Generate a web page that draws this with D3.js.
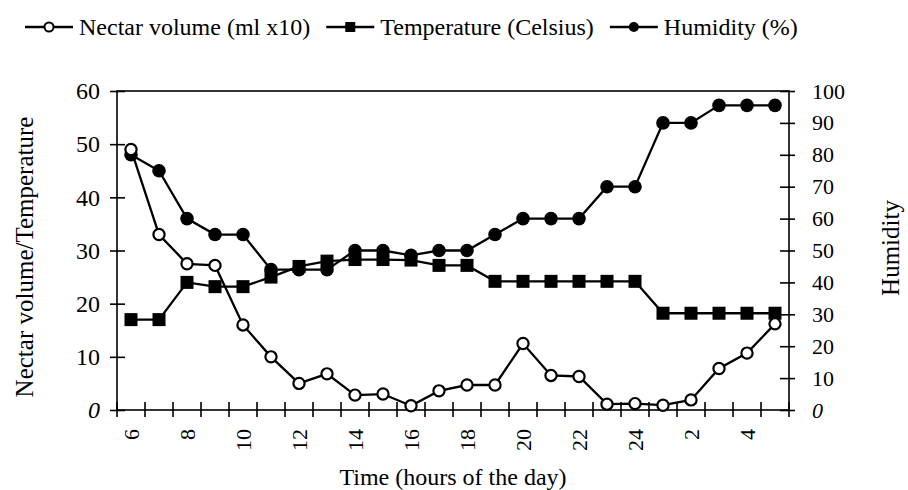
<!DOCTYPE html>
<html lang='en'>
<head>
  <meta charset='UTF-8'>
  <title>Nectar volume, temperature and humidity</title>
  <style>
  body { margin: 0; background: #fff; }
  svg { display: block; }
  svg text { font-family: "Liberation Serif", "DejaVu Serif", serif; fill: #000; }
  .axis path { display: none; }
  .axis line { stroke: #000; stroke-width: 1.6; }
  </style>
  <script src="https://d3js.org/d3.v7.min.js"></script>
</head>
<body>
  <script>

  // data
  var hours = ['6', '7', '8', '9', '10', '11', '12', '13', '14', '15', '16', '17',
               '18', '19', '20', '21', '22', '23', '24', '1', '2', '3', '4', '5'];
  var hourLabels = ['6', '8', '10', '12', '14', '16', '18', '20', '22', '24', '2', '4'];
  var nectar = [49, 33, 27.5, 27.2, 16, 10, 5, 6.8, 2.8, 3, 0.8, 3.6,
                4.7, 4.7, 12.5, 6.5, 6.3, 1.1, 1.2, 0.9, 1.9, 7.8, 10.7, 16.2];
  var temperature = [17, 17, 24, 23.2, 23.2, 25, 27, 28, 28.3, 28.3, 28.2, 27.2,
                     27.2, 24.2, 24.2, 24.2, 24.2, 24.2, 24.2, 18.2, 18.2, 18.2, 18.2, 18.2];
  var humidity = [80, 75, 60, 55, 55, 44, 44, 44, 50, 50, 48.5, 50,
                  50, 55, 60, 60, 60, 70, 70, 90, 90, 95.5, 95.5, 95.5];
  var leftTicks = [0, 10, 20, 30, 40, 50, 60];
  var rightTicks = [0, 10, 20, 30, 40, 50, 60, 70, 80, 90, 100];
  var seriesNames = ['Nectar volume (ml x10)', 'Temperature (Celsius)', 'Humidity (%)'];

  var svgWidth = 908;
  var svgHeight = 490;
  var margin = { top: 91, right: 119, bottom: 80, left: 117 };
  var width = svgWidth - margin.left - margin.right;
  var height = svgHeight - margin.top - margin.bottom;
  var serif = '"Liberation Serif", "DejaVu Serif", serif';

  var svg = d3.select('body').append('svg')
    .attr('width', svgWidth)
    .attr('height', svgHeight);

  var x = d3.scaleBand().domain(hours).range([0, width]);
  var yLeft = d3.scaleLinear().domain([0, 60]).range([height, 0]);
  var yRight = d3.scaleLinear().domain([0, 100]).range([height, 0]);

  var g = svg.append('g').attr('transform', 'translate(' + margin.left + ',' + margin.top + ')');

  // frame
  g.append('rect')
   .attr('width', width)
   .attr('height', height)
   .attr('fill', 'none')
   .attr('stroke', '#000')
   .attr('stroke-width', 1.6);

  // left axis, ticks cross the line
  var left = g.append('g')
    .attr('class', 'axis')
    .call(d3.axisLeft(yLeft).tickValues(leftTicks).tickSize(7).tickPadding(10));
  left.attr('font-family', serif).attr('font-size', 24);
  left.selectAll('.tick line').attr('x2', 8).attr('x1', -7);
  left.selectAll('text')
      .style('font-style', function (d) { return d === 0 ? 'italic' : null; });

  // right axis
  var right = g.append('g')
    .attr('class', 'axis')
    .attr('transform', 'translate(' + width + ',0)')
    .call(d3.axisRight(yRight).tickValues(rightTicks).tickSize(6).tickPadding(17));
  right.attr('font-family', serif).attr('font-size', 22);
  right.selectAll('.tick line').attr('x1', -9).attr('x2', 6);
  right.selectAll('text')
       .style('font-style', function (d) { return d === 0 ? 'italic' : null; });

  // x ticks at band edges
  var edges = hours.map(function (h) { return x(h); }).concat([width]);
  g.append('g')
   .attr('class', 'axis')
   .selectAll('line')
   .data(edges)
   .enter()
   .append('line')
   .attr('x1', function (d) { return d; })
   .attr('x2', function (d) { return d; })
   .attr('y1', height - 8)
   .attr('y2', height + 7);

  // x labels, every other hour, rotated
  var bottom = g.append('g')
    .attr('class', 'axis')
    .attr('transform', 'translate(0,' + height + ')')
    .call(d3.axisBottom(x).tickValues(hourLabels).tickSize(0));
  bottom.attr('font-family', serif).attr('font-size', 22);
  bottom.selectAll('line').remove();
  bottom.selectAll('text')
        .attr('text-anchor', 'end')
        .attr('transform', 'rotate(-90)')
        .attr('x', -19)
        .attr('y', 0)
        .attr('dy', '0.35em');

  // lines and markers
  var lineLeft = d3.line()
    .x(function (d, i) { return x(hours[i]) + x.bandwidth() / 2; })
    .y(function (d) { return yLeft(d); });
  var lineRight = d3.line()
    .x(function (d, i) { return x(hours[i]) + x.bandwidth() / 2; })
    .y(function (d) { return yRight(d); });

  function drawLine(values, line) {
    g.append('path')
     .datum(values)
     .attr('fill', 'none')
     .attr('stroke', '#000')
     .attr('stroke-width', 2.3)
     .attr('d', line);
  }

  drawLine(temperature, lineLeft);
  drawLine(humidity, lineRight);
  drawLine(nectar, lineLeft);

  g.selectAll('.temp')
   .data(temperature)
   .enter()
   .append('rect')
   .attr('class', 'temp')
   .attr('x', function (d, i) { return x(hours[i]) + x.bandwidth() / 2 - 6.5; })
   .attr('y', function (d) { return yLeft(d) - 6.5; })
   .attr('width', 13)
   .attr('height', 13)
   .attr('fill', '#000');

  g.selectAll('.hum')
   .data(humidity)
   .enter()
   .append('circle')
   .attr('class', 'hum')
   .attr('cx', function (d, i) { return x(hours[i]) + x.bandwidth() / 2; })
   .attr('cy', function (d) { return yRight(d); })
   .attr('r', 6.8)
   .attr('fill', '#000');

  g.selectAll('.nectar')
   .data(nectar)
   .enter()
   .append('circle')
   .attr('class', 'nectar')
   .attr('cx', function (d, i) { return x(hours[i]) + x.bandwidth() / 2; })
   .attr('cy', function (d) { return yLeft(d); })
   .attr('r', 5.6)
   .attr('fill', '#fff')
   .attr('stroke', '#000')
   .attr('stroke-width', 2.2);

  // axis titles
  svg.append('text')
     .attr('transform', 'translate(33,257) rotate(-90)')
     .attr('text-anchor', 'middle')
     .attr('font-size', 25)
     .text('Nectar volume/Temperature');

  svg.append('text')
     .attr('transform', 'translate(899,248) rotate(-90)')
     .attr('text-anchor', 'middle')
     .attr('font-size', 25)
     .text('Humidity');

  svg.append('text')
     .attr('x', 453)
     .attr('y', 485)
     .attr('text-anchor', 'middle')
     .attr('font-size', 24)
     .text('Time (hours of the day)');

  // legend, laid out left to right
  var lx = 25;
  var ly = 27;
  seriesNames.forEach(function (name, i) {
    var item = svg.append('g').attr('transform', 'translate(' + lx + ',' + ly + ')');
    item.append('line')
        .attr('x1', 0).attr('x2', 48)
        .attr('stroke', '#000').attr('stroke-width', 2.3);
    if (i === 0) {
      item.append('circle').attr('cx', 24).attr('r', 4.5)
          .attr('fill', '#fff').attr('stroke', '#000').attr('stroke-width', 2);
    } else if (i === 1) {
      item.append('rect').attr('x', 19).attr('y', -5).attr('width', 10).attr('height', 10);
    } else {
      item.append('circle').attr('cx', 24).attr('r', 5);
    }
    var t = item.append('text')
      .attr('x', 54)
      .attr('dy', '0.32em')
      .attr('font-size', 24)
      .text(name);
    lx += 54 + t.node().getComputedTextLength() + 16;
  });
  </script>
</body>
</html>
